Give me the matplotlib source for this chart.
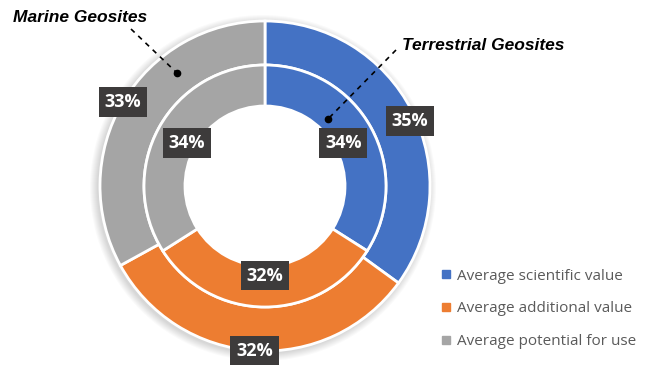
import numpy as np
import matplotlib
matplotlib.use('Agg')
import matplotlib.pyplot as plt
from matplotlib.lines import Line2D
from matplotlib.patches import Wedge

# dati
categorie = ['Average scientific value', 'Average additional value', 'Average potential for use']
terrestri = [35, 32, 33]   # anello esterno
marini = [34, 32, 34]      # anello interno
colori = ['#4472C4', '#ED7D31', '#A5A5A5']

W, H = 651, 370
fig = plt.figure(figsize=(W / 100, H / 100), dpi=100)
ax = fig.add_axes([0, 0, 1, 1])

cx, cy = 265, H - 186
R_est, R_int, R_buco = 165, 121, 80

# ombra leggera attorno alla ciambella (solo all'esterno)
for k in range(1, 9):
    ax.add_patch(Wedge((cx - 2, cy - 2), R_est + k, 0, 360, width=k + 4,
                       fc='#000000', alpha=0.018, ec='none', zorder=0))

box = dict(boxstyle='square,pad=0.32', fc='#3d3b3b', ec='none')

w1, _, t1 = ax.pie(terrestri, colors=colori, radius=R_est, center=(cx, cy),
                   startangle=90, counterclock=False, frame=True,
                   autopct='%d%%', pctdistance=1.0,
                   wedgeprops=dict(width=R_est - R_int, edgecolor='white', linewidth=2))
w2, _, t2 = ax.pie(marini, colors=colori, radius=R_int, center=(cx, cy),
                   startangle=90, counterclock=False, frame=True,
                   autopct='%d%%', pctdistance=0.74,
                   wedgeprops=dict(width=R_int - R_buco, edgecolor='white', linewidth=2))

for t in t1 + t2:
    t.set_color('white')
    t.set_fontsize(13)
    t.set_fontweight('bold')
    t.set_fontfamily('Open Sans')
    t.set_bbox(box)

# etichetta 35% un po' piu' in basso come nell'originale
x0, y0 = t1[0].get_position()
t1[0].set_position((x0 - 2, y0 - 10))

ax.set_xlim(0, W)
ax.set_ylim(0, H)
ax.set_aspect('auto')
ax.axis('off')

# annotazioni
ax.text(80, H - 18, 'Marine Geosites', ha='center', va='center', fontsize=12.5,
        fontweight='bold', style='italic', family='Liberation Sans')
ax.plot([131, 177], [H - 29, H - 73], ls=(0, (3, 3)), color='black', lw=1.2)
ax.plot(177, H - 73, 'o', color='black', ms=4.5)

ax.text(483, H - 45, 'Terrestrial Geosites', ha='center', va='center', fontsize=12.5,
        fontweight='bold', style='italic', family='Liberation Sans')
ax.plot([396, 328], [H - 50, H - 119], ls=(0, (3, 3)), color='black', lw=1.2)
ax.plot(328, H - 119, 'o', color='black', ms=4.5)

handles = [Line2D([], [], marker='s', ls='none', color=c, ms=6) for c in colori]
leg = ax.legend(handles, categorie, loc='upper left', bbox_to_anchor=(428 / W, 1 - 255 / H),
                frameon=False, handlelength=0.6, handletextpad=0.4, labelspacing=1.15,
                prop={'family': 'Open Sans', 'size': 11})
for t in leg.get_texts():
    t.set_color('#5a5a5a')

fig.savefig('out.png', dpi=100)
